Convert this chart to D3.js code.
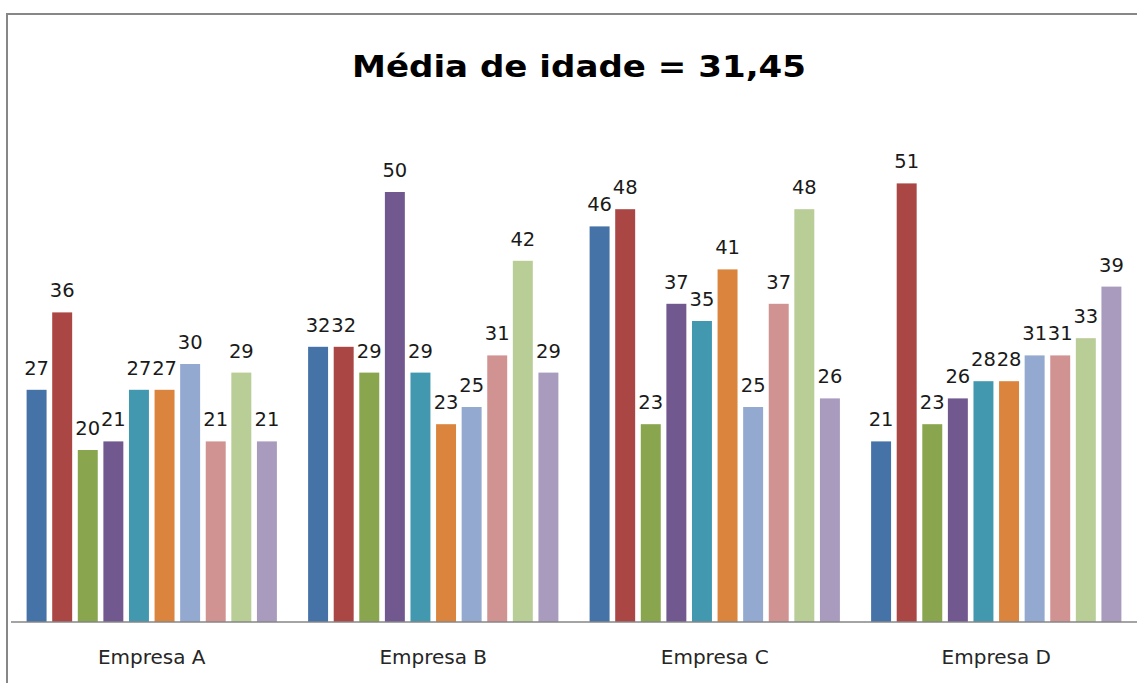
<!DOCTYPE html>
<html>
<head>
<meta charset="utf-8">
<script src="https://cdn.jsdelivr.net/npm/d3@7"></script>
<style>
  html, body { margin: 0; padding: 0; background: #ffffff; }
  svg { display: block; }
</style>
</head>
<body>
<svg id="chart" width="1137" height="683"></svg>
<script>
const title = "Média de idade = 31,45";
const categories = ["Empresa A", "Empresa B", "Empresa C", "Empresa D"];
const seriesNames = ["S1","S2","S3","S4","S5","S6","S7","S8","S9","S10"];
const seriesColors = ["#4572A7","#AA4643","#89A54E","#71588F","#4198AF","#DB843D","#93A9CF","#D19392","#B9CD96","#A99BBD"];
const empresaA = [27, 36, 20, 21, 27, 27, 30, 21, 29, 21];
const empresaB = [32, 32, 29, 50, 29, 23, 25, 31, 42, 29];
const empresaC = [46, 48, 23, 37, 35, 41, 25, 37, 48, 26];
const empresaD = [21, 51, 23, 26, 28, 28, 31, 31, 33, 39];
const valuesByCategory = [empresaA, empresaB, empresaC, empresaD];

const svg = d3.select("#chart");

// frame lines (chart area border)
svg.append("line").attr("x1", 7).attr("y1", 14).attr("x2", 1137).attr("y2", 14)
  .attr("stroke", "#878787").attr("stroke-width", 2);
svg.append("line").attr("x1", 7).attr("y1", 13).attr("x2", 7).attr("y2", 683)
  .attr("stroke", "#878787").attr("stroke-width", 2);

// title
svg.append("text")
  .attr("x", 579).attr("y", 77)
  .attr("text-anchor", "middle")
  .attr("font-family", "'DejaVu Sans', sans-serif")
  .attr("font-weight", "bold")
  .attr("font-size", 30)
  .attr("fill", "#000")
  .attr("textLength", 454)
  .attr("lengthAdjust", "spacingAndGlyphs")
  .text(title);

const x0 = d3.scaleBand().domain(categories).range([11, 1137]).paddingInner(0).paddingOuter(0);
const x1 = d3.scaleBand().domain(d3.range(seriesNames.length)).range([0, x0.bandwidth()])
  .paddingInner(0.22).paddingOuter(0.61);
const y = d3.scaleLinear().domain([0, 60]).range([622, 106]);

const groups = svg.selectAll("g.grp")
  .data(categories.map((c, i) => ({ cat: c, vals: valuesByCategory[i] })))
  .enter().append("g")
  .attr("class", "grp")
  .attr("transform", d => `translate(${x0(d.cat)},0)`);

groups.selectAll("rect")
  .data(d => d.vals.map((v, i) => ({ v, i })))
  .enter().append("rect")
  .attr("x", d => x1(d.i))
  .attr("y", d => y(d.v))
  .attr("width", x1.bandwidth())
  .attr("height", d => y(0) - y(d.v))
  .attr("fill", d => seriesColors[d.i]);

groups.selectAll("text.lbl")
  .data(d => d.vals.map((v, i) => ({ v, i })))
  .enter().append("text")
  .attr("class", "lbl")
  .attr("x", d => x1(d.i) + x1.bandwidth() / 2)
  .attr("y", d => y(d.v) - 15)
  .attr("text-anchor", "middle")
  .attr("font-family", "'DejaVu Sans', sans-serif")
  .attr("font-size", 19.5)
  .attr("fill", "#1a1a1a")
  .text(d => d.v);

// category axis
const axis = svg.append("g").attr("transform", "translate(0,622)")
  .call(d3.axisBottom(x0).tickSize(0).tickPadding(0));
axis.select(".domain").attr("stroke", "#868686").attr("stroke-width", 1.5)
  .attr("d", "M11,0H1137");
axis.selectAll(".tick text")
  .attr("y", 42)
  .attr("dy", 0)
  .attr("font-family", "'DejaVu Sans', sans-serif")
  .attr("font-size", 20)
  .attr("fill", "#262626");
</script>
</body>
</html>
